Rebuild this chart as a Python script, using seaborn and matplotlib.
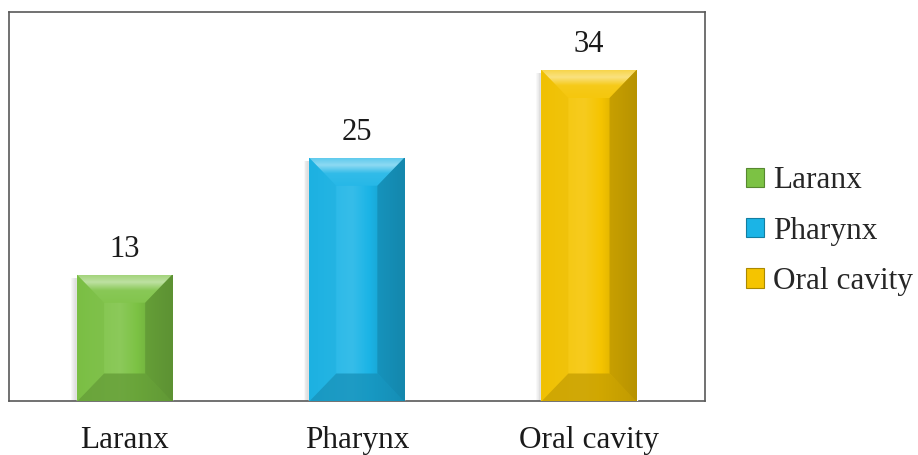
import numpy as np
import matplotlib
matplotlib.use('Agg')
import matplotlib.pyplot as plt
import seaborn as sns
from matplotlib.patches import Polygon, Patch
from matplotlib.colors import to_rgb

# chart data
categories = ['Laranx', 'Pharynx', 'Oral cavity']
counts = [13, 25, 34]
bar_colors = ['#7cc244', '#1bb4e6', '#f5c400']


def shade(c, f):
    """Lighten (f > 0) or darken (f < 0) a colour"""
    c = np.array(to_rgb(c))
    if f >= 0:
        return tuple(c + (1 - c) * f)
    return tuple(c * (1 + f))


def bevel_bar(ax, p, color, dx, dy):
    """Paint a bevelled look over one bar patch"""
    x0, w, h = p.get_x(), p.get_width(), p.get_height()
    x1 = x0 + w

    # face: horizontal gradient, light left, dark right
    t = np.linspace(0, 1, 64)
    prof = np.interp(t, [0, 0.45, 1], [0.02, 0.12, -0.25])
    img = np.array([[shade(color, f) for f in prof]])
    im = ax.imshow(img, extent=(x0, x1, 0, h), aspect='auto', zorder=3,
                   interpolation='bilinear')
    im.set_clip_path(p)

    # top facet with a bright band near its inner edge
    top = Polygon([(x0, h), (x1, h), (x1 - dx, h - dy), (x0 + dx, h - dy)],
                  closed=True, facecolor='none', edgecolor='none', zorder=4)
    ax.add_patch(top)
    tv = np.linspace(0, 1, 64)
    vprof = np.interp(tv, [0, 0.25, 0.55, 1], [0.3, 0.5, 0.1, 0.05])
    vimg = np.array([[shade(color, f)] for f in vprof])
    im2 = ax.imshow(vimg, extent=(x0, x1, h - dy, h), aspect='auto', zorder=4,
                    interpolation='bilinear')
    im2.set_clip_path(top)

    # side and bottom facets
    ax.add_patch(Polygon([(x0, h), (x0 + dx, h - dy), (x0 + dx, dy), (x0, 0)],
                         closed=True, facecolor=shade(color, -0.04),
                         edgecolor='none', alpha=0.45, zorder=4))
    ax.add_patch(Polygon([(x1, h), (x1 - dx, h - dy), (x1 - dx, dy), (x1, 0)],
                         closed=True, facecolor=shade(color, -0.25),
                         edgecolor='none', alpha=0.65, zorder=4))
    ax.add_patch(Polygon([(x0, 0), (x0 + dx, dy), (x1 - dx, dy), (x1, 0)],
                         closed=True, facecolor=shade(color, -0.2),
                         edgecolor='none', alpha=0.75, zorder=4))

    # soft shadow on the left
    for k in range(6):
        ax.add_patch(Polygon([(x0 - 0.004 * (k + 1), 0), (x0 - 0.004 * (k + 1), h - 0.3),
                              (x0, h - 0.3), (x0, 0)],
                             closed=True, facecolor='#808080', edgecolor='none',
                             alpha=0.05, zorder=2))


sns.set_theme(style='white')
plt.rcParams['font.family'] = ['Liberation Serif', 'DejaVu Serif']

fig = plt.figure(figsize=(9.18, 4.55), dpi=100)
ax = fig.add_axes([0.0093, 0.1176, 0.7587, 0.8571])

sns.barplot(x=categories, y=counts, hue=categories, palette=bar_colors,
            width=0.41, saturation=1, legend=False, ax=ax, zorder=3)
ax.set_xlim(-0.5, 2.5)
ax.set_ylim(0, 40)
ax.set_autoscale_on(False)

dx = 27 / 232
dy = 28 / 9.75
for p, c in zip(ax.patches, bar_colors):
    bevel_bar(ax, p, c, dx, dy)

for cont in ax.containers:
    ax.bar_label(cont, fmt='%d', padding=8, fontsize=22, color='#1a1a1a')

ax.set_yticks([])
ax.set_xlabel('')
ax.set_ylabel('')
ax.tick_params(axis='x', length=0, pad=18, labelsize=22.5, labelcolor='#1a1a1a')
for s in ax.spines.values():
    s.set_visible(True)
    s.set_color('#595959')
    s.set_linewidth(1.2)

handles = [Patch(facecolor=c, edgecolor=shade(c, -0.3), linewidth=0.8)
           for c in bar_colors]
fig.legend(handles, categories, loc='center left', bbox_to_anchor=(0.813, 0.492),
           frameon=False, fontsize=22.5, handlelength=0.58, handleheight=0.58,
           handletextpad=0.27, labelspacing=0.68, borderaxespad=0, borderpad=0)

fig.savefig('out.png', dpi=100)
